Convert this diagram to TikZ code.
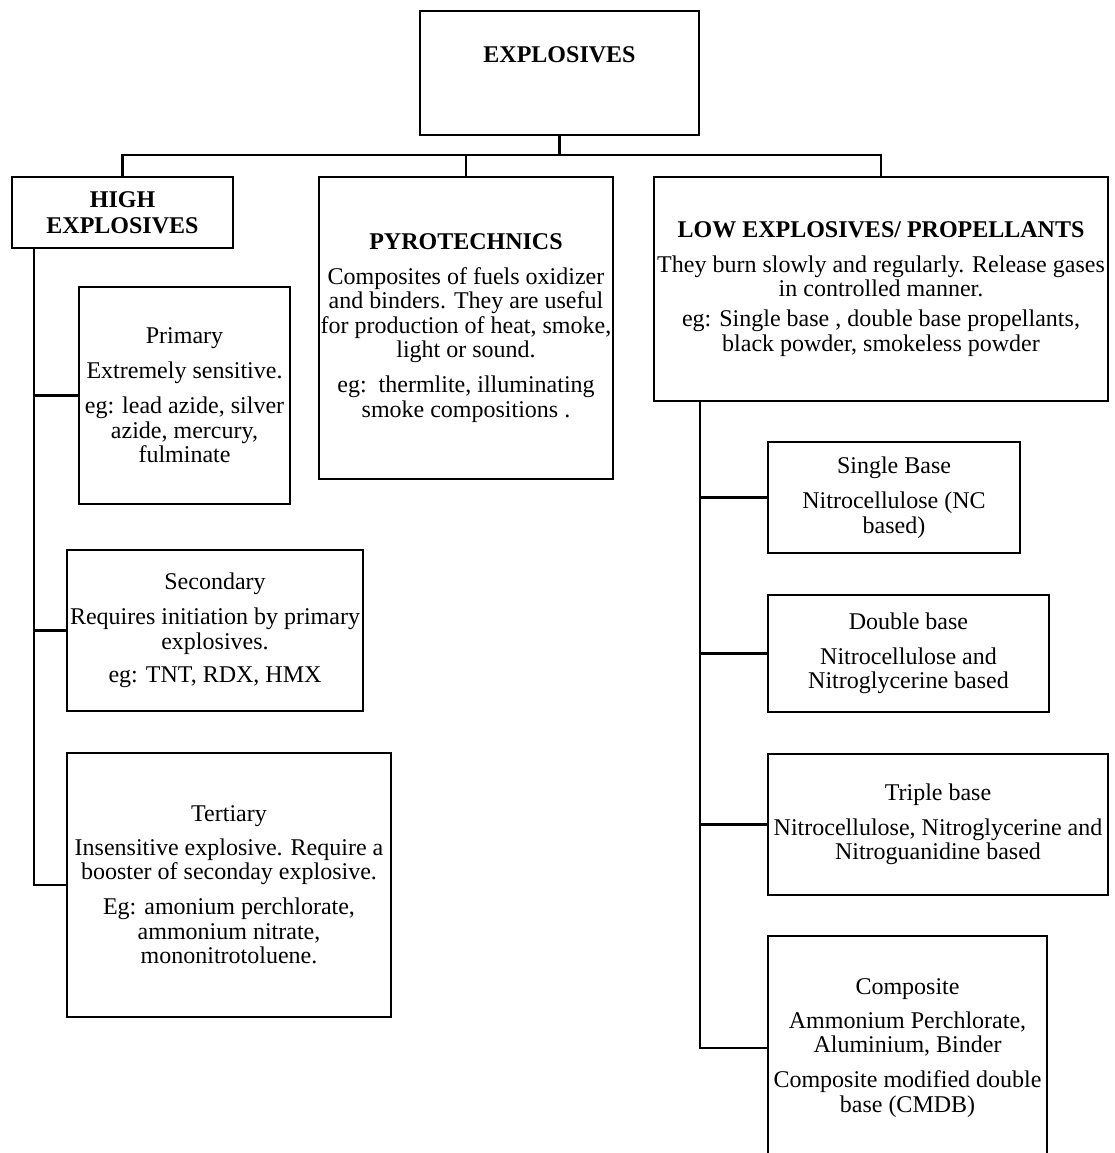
\documentclass[tikz,border=0pt]{standalone}
\usepackage{fontspec}
\setmainfont{Liberation Serif}
\newcommand\chartfont{\fontsize{24}{24.5}\selectfont}
\begin{document}
\begin{tikzpicture}[x=1pt,y=-1pt,
  box/.style={draw, line width=2.6pt, inner sep=0pt, align=center, font=\chartfont},
  title/.style={inner sep=0pt, align=center, font=\chartfont\bfseries},
  link/.style={line width=2.6pt},
  thinlink/.style={line width=1.5pt}]
\clip (0,0) rectangle (1114,1153);
\fill[white] (0,0) rectangle (1114,1153);

% root
\node[box, minimum width=279, minimum height=124] (top) at (559.5,73) {};
\node[title] (toplabel) at (559.5,55) {EXPLOSIVES};

% first level
\node[box, minimum width=221, minimum height=71, font=\chartfont\bfseries] (high) at (122.5,212.5)
  {HIGH\\[1.5pt]EXPLOSIVES};
\node[box, minimum width=294, minimum height=302] (pyro) at (466,328)
  {\textbf{PYROTECHNICS}\\[10pt]Composites of fuels oxidizer\\and binders. They are useful\\for production of heat, smoke,\\light or sound.\\[10.5pt]eg:\ \ thermlite, illuminating\\smoke compositions .};
\node[box, minimum width=454, minimum height=224] (low) at (881,289)
  {\textbf{LOW EXPLOSIVES/ PROPELLANTS}\\[10.5pt]They burn slowly and regularly. Release gases\\in controlled manner.\\[5.5pt]eg: Single base , double base propellants,\\black powder, smokeless powder};

% high explosives
\node[box, minimum width=211, minimum height=217] (primary) at (184.5,395.5)
  {Primary\\[10.5pt]Extremely sensitive.\\[10.5pt]eg: lead azide, silver\\azide, mercury,\\fulminate};
\node[box, minimum width=296, minimum height=161] (secondary) at (215,630.5)
  {Secondary\\[10.5pt]Requires initiation by primary\\explosives.\\[9pt]eg: TNT, RDX, HMX};
\node[box, minimum width=324, minimum height=264] (tertiary) at (229,885)
  {Tertiary\\[9pt]Insensitive explosive. Require a\\booster of seconday explosive.\\[10.5pt]Eg: amonium perchlorate,\\ammonium nitrate,\\mononitrotoluene.};

% low explosives
\node[box, minimum width=252, minimum height=111] (single) at (894,497.5)
  {Single Base\\[10.5pt]Nitrocellulose (NC\\based)};
\node[box, minimum width=281, minimum height=117] (double) at (908.5,653.5)
  {Double base\\[10.5pt]Nitrocellulose and\\Nitroglycerine based};
\node[box, minimum width=340, minimum height=141] (triple) at (938,824.5)
  {Triple base\\[10.5pt]Nitrocellulose, Nitroglycerine and\\Nitroguanidine based};
\node[box, minimum width=279, minimum height=224] (comp) at (907.5,1048)
  {Composite\\[9.5pt]Ammonium Perchlorate,\\Aluminium, Binder\\[10.5pt]Composite modified double\\base (CMDB)};

% connectors
\coordinate (bus) at (559.5,155);
\coordinate (hx) at (34,0);
\coordinate (lx) at (700,0);
\draw[link] (top.south) -- (bus);
\draw[link] (high.north) |- (bus) -| (low.north);
\draw[thinlink] (pyro.north) -- (pyro.north |- bus);

\draw[link] (high.south -| hx) |- (tertiary.west);
\draw[link] (hx |- primary.west) -- (primary.west);
\draw[link] (hx |- secondary.west) -- (secondary.west);

\draw[link] (low.south -| lx) |- (comp.west);
\draw[link] (lx |- single.west) -- (single.west);
\draw[link] (lx |- double.west) -- (double.west);
\draw[link] (lx |- triple.west) -- (triple.west);
\end{tikzpicture}
\end{document}
